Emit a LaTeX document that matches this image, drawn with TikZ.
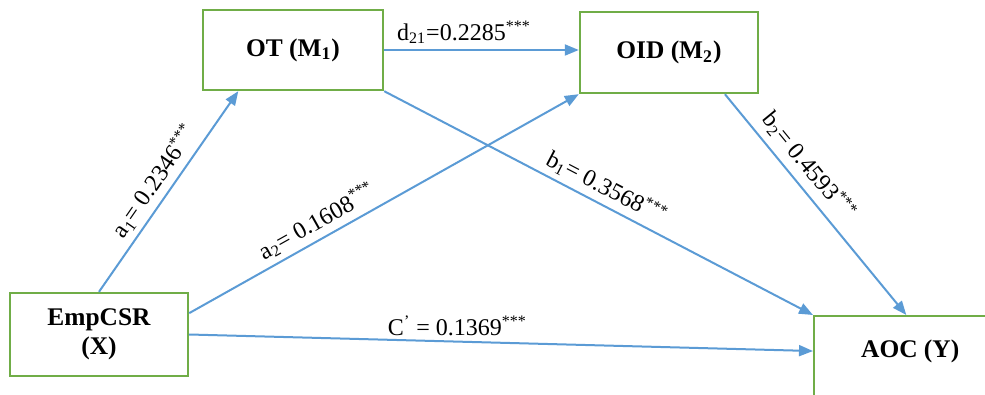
\documentclass[tikz,border=0pt]{standalone}
\usepackage{fontspec}
\setmainfont{Liberation Serif}
\usetikzlibrary{arrows.meta,calc}
\definecolor{boxgreen}{RGB}{112,173,71}
\definecolor{linkblue}{RGB}{91,155,213}

\begin{document}
\begin{tikzpicture}[x=.5pt,y=-.5pt,>={Triangle[length=7pt,width=5.5pt]},
  box/.style={draw=boxgreen,line width=1.2pt,align=center,font=\bfseries\fontsize{12.7}{14.5}\selectfont},
  link/.style={->,draw=linkblue,line width=1pt},
  coef/.style={font=\fontsize{12}{14}\selectfont,inner sep=2.5pt}]
\path[use as bounding box] (0,0) rectangle (985,395);
% the four variables
\node[box,minimum width=89pt,minimum height=41.5pt] (emp) at (99,334.5) {EmpCSR\\(X)};
\node[box,minimum width=90pt,minimum height=40pt] (ot) at (293,50) {OT (M\textsubscript{1})};
\node[box,minimum width=89pt,minimum height=40.5pt] (oid) at (669,52.5) {OID (M\textsubscript{2})};
\node[box,anchor=north west,minimum width=96pt,minimum height=45pt,text depth=13pt,xshift=-3pt] (aoc) at (819,315) {AOC (Y)};
% paths with their coefficients
\draw[link] (emp.north) -- node[coef,sloped,above,midway] {a\textsubscript{1}= 0.2346\textsuperscript{***}} ($(ot.south west)!.2!(ot.south east)$);
\draw[link] ($(emp.north east)!.25!(emp.south east)$) -- node[coef,sloped,above,pos=.35] {a\textsubscript{2}= 0.1608\textsuperscript{***}} (oid.south west);
\draw[link] (ot.east) -- node[coef,above,pos=.41] {d\textsubscript{21}=0.2285\textsuperscript{***}} (ot.east -| oid.west);
\draw[link] (ot.south east) -- node[coef,sloped,above,midway] {b\textsubscript{1}= 0.3568\textsuperscript{***}} (aoc.north west);
\draw[link] ($(oid.south west)!.81!(oid.south east)$) -- node[coef,sloped,above,pos=.38,inner sep=3.5pt] {b\textsubscript{2}= 0.4593\textsuperscript{***}} ($(aoc.north west)!.48!(aoc.north east)$);
\draw[link] (emp.east) -- node[coef,above,pos=.43] {C\textsuperscript{'} = 0.1369\textsuperscript{***}} ($(aoc.north west)!.39!(aoc.south west)$);
\end{tikzpicture}
\end{document}
